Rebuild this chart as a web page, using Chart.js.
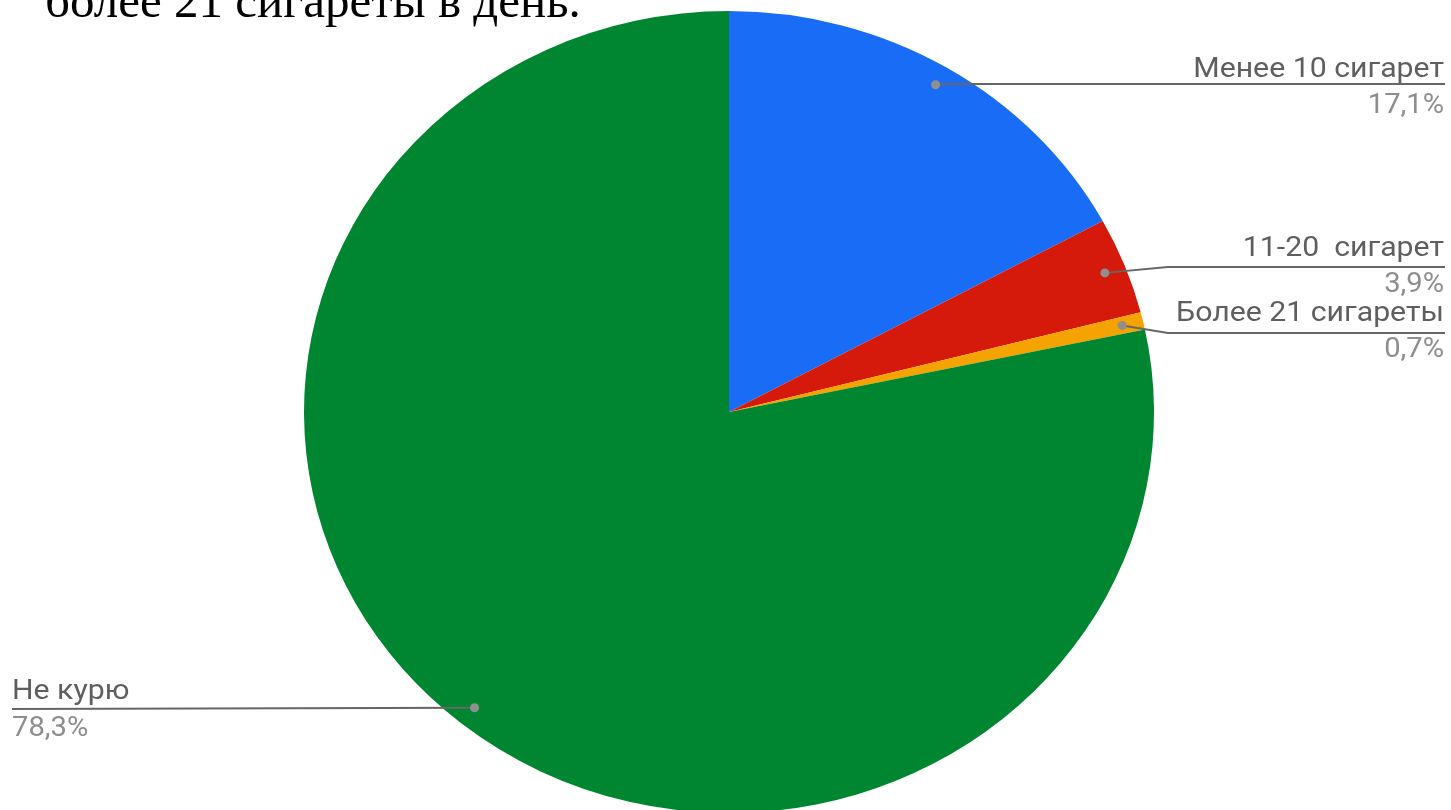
<!DOCTYPE html>
<html>
<head>
<meta charset="utf-8">
<script src="https://cdn.jsdelivr.net/npm/chart.js@4"></script>
<style>
  html, body { margin: 0; padding: 0; background: #fff; overflow: hidden; width: 1451px; height: 810px; }
  #wrap { position: relative; width: 1451px; height: 810px; overflow: hidden; }
  #c { position: absolute; left: 0; top: 0; }
  #title { position: absolute; left: 45px; top: -24px; font-family: "Liberation Serif", "Times New Roman", serif; font-size: 49px; color: #000; white-space: pre; line-height: 1; }
</style>
</head>
<body>
<div id="wrap">
  <canvas id="c" width="1451" height="830"></canvas>
  <div id="title">более 21 сигареты в день.</div>
</div>
<script>
const categories = ["Менее 10 сигарет", "11-20  сигарет", "Более 21 сигареты", "Не курю"];
const values = [17.1, 3.9, 0.7, 78.3];
const valueLabels = ["17,1%", "3,9%", "0,7%", "78,3%"];
const colors = ["#196cf5", "#d5190b", "#f5a300", "#008631"];

// label layout (positions only)
const labelLayout = [
  { side: "right", lineY: 84,  elbowX: null, nameDy: -7,  pctDy: 29 },
  { side: "right", lineY: 267, elbowX: 1168, nameDy: -11, pctDy: 25 },
  { side: "right", lineY: 333, elbowX: 1168, nameDy: -12, pctDy: 24 },
  { side: "left",  lineY: 709, elbowX: null, nameDy: -10, pctDy: 27 }
];
const SX = 425 / 401; // horizontal stretch of the pie

const ellipsePlugin = {
  id: "ellipse",
  beforeDatasetsDraw(chart) {
    const arc = chart.getDatasetMeta(0).data[0];
    const ctx = chart.ctx;
    ctx.save();
    ctx.translate(arc.x, arc.y);
    ctx.scale(SX, 1);
    ctx.translate(-arc.x, -arc.y);
  },
  afterDatasetsDraw(chart) {
    chart.ctx.restore();
  }
};

function stretchedText(ctx, text, x, y, align, sx) {
  ctx.save();
  ctx.translate(x, y);
  ctx.scale(sx, 1);
  ctx.textAlign = align;
  ctx.fillText(text, 0, 0);
  ctx.restore();
}

const labelPlugin = {
  id: "labels",
  afterDraw(chart) {
    const ctx = chart.ctx;
    const meta = chart.getDatasetMeta(0);
    meta.data.forEach((arc, i) => {
      const mid = (arc.startAngle + arc.endAngle) / 2;
      const r = arc.outerRadius * 0.95;
      const dx = arc.x + Math.cos(mid) * r * SX;
      const dy = arc.y + Math.sin(mid) * r;
      const L = labelLayout[i];
      ctx.save();
      ctx.strokeStyle = "#666666";
      ctx.lineWidth = 2;
      ctx.beginPath();
      ctx.moveTo(dx, dy);
      if (L.side === "right") {
        if (L.elbowX) ctx.lineTo(L.elbowX, L.lineY);
        else ctx.lineTo(dx + 2, L.lineY);
        ctx.lineTo(1445, L.lineY);
      } else {
        ctx.lineTo(12, L.lineY);
      }
      ctx.stroke();
      ctx.fillStyle = "#8f8f8f";
      ctx.beginPath();
      ctx.arc(dx, dy, 4.5, 0, Math.PI * 2);
      ctx.fill();
      ctx.font = "27px Roboto";
      const align = L.side === "right" ? "right" : "left";
      const tx = L.side === "right" ? 1444 : 12;
      ctx.textBaseline = "alphabetic";
      ctx.fillStyle = "#5f5f5f";
      stretchedText(ctx, chart.data.labels[i], tx, L.lineY + L.nameDy, align, 1.12);
      ctx.fillStyle = "#8e8e8e";
      stretchedText(ctx, valueLabels[i], tx, L.lineY + L.pctDy, align, 1.08);
      ctx.restore();
    });
  }
};

new Chart(document.getElementById("c"), {
  type: "pie",
  data: {
    labels: categories,
    datasets: [{ data: values, backgroundColor: colors, borderWidth: 0, hoverOffset: 0 }]
  },
  options: {
    responsive: false,
    animation: false,
    devicePixelRatio: 1,
    layout: { padding: { left: 328, right: 321, top: 11, bottom: 17 } },
    plugins: { legend: { display: false }, tooltip: { enabled: false } },
    events: []
  },
  plugins: [ellipsePlugin, labelPlugin]
});
</script>
</body>
</html>
